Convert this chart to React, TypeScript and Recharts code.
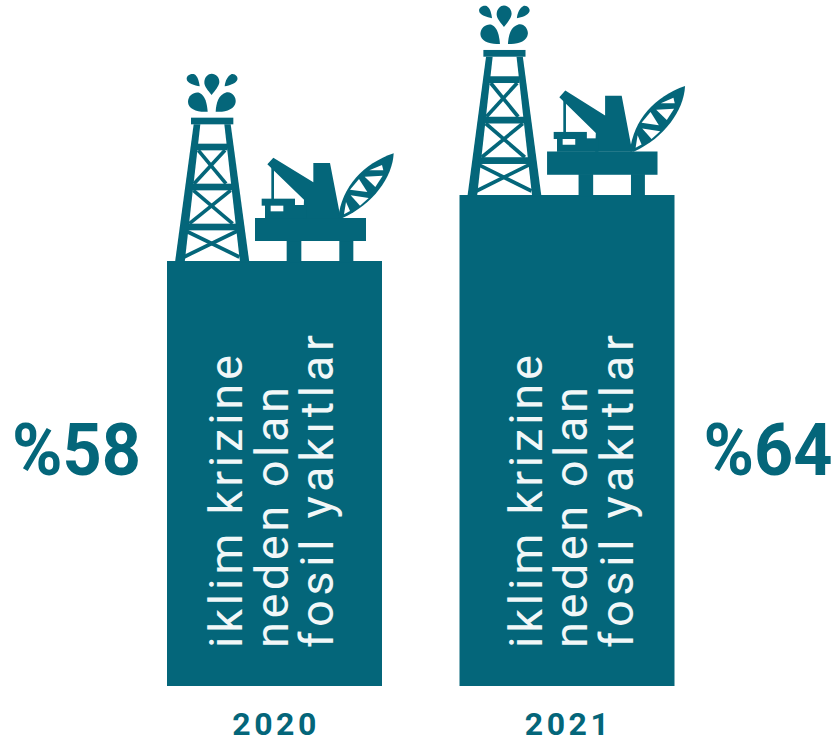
import { BarChart, Bar, XAxis, YAxis, LabelList } from "recharts";

const years = ["2020", "2021"];
const shares = [58, 64];
const captionLines = ["iklim krizine", "neden olan", "fosil yakıtlar"];

const chartData = years.map((year, i) => ({ year, share: shares[i] }));

const TEAL = "#04667a";
const CAPTION_FONT = "Roboto, sans-serif";

// Rig artwork, drawn in its own 3x grid; the bar's top edge sits at y=602.
function RigIcon() {
  return (
    <g fill={TEAL}>
      {/* flame drops */}
      <path d="M143,154 C115,157 84,147 84,125 C84,104 105,93 119,98 C136,106 141,130 143,154 Z" />
      <path d="M167,154 C169,130 174,103 200,96 C216,93 229,110 227,125 C225,147 195,157 167,154 Z" />
      <path d="M155,104 C145,91 132,78 133,65 C134,49 145,40 155,40 C168,40 179,52 178,66 C177,78 165,91 155,104 Z" />
      <path d="M119,78 C105,75 80,69 80,55 C80,44 95,39 103,42 C113,48 117,62 119,78 Z" />
      <path d="M194,78 C196,62 202,47 215,41 C226,39 235,50 232,58 C228,69 210,75 194,78 Z" />
      {/* derrick */}
      <rect x={93} y={172} width={127} height={20} />
      <path d="M101,192 L121,192 L74,606 L45,606 Z" />
      <path d="M193,192 L212,192 L268,606 L240,606 Z" />
      <rect x={110} y={250} width={92} height={20} />
      <rect x={92} y={370} width={130} height={20} />
      <rect x={78} y={490} width={156} height={20} />
      <g stroke={TEAL} strokeWidth={11}>
        <line x1={115} y1={270} x2={198} y2={370} />
        <line x1={195} y1={270} x2={102} y2={370} />
        <line x1={100} y1={390} x2={218} y2={490} />
        <line x1={212} y1={390} x2={88} y2={490} />
        <line x1={78} y1={512} x2={238} y2={590} />
        <line x1={232} y1={512} x2={72} y2={590} />
      </g>
      {/* platform legs and deck */}
      <rect x={380} y={540} width={44} height={66} />
      <rect x={538} y={540} width={42} height={66} />
      <rect x={285} y={473} width={333} height={69} />
      {/* crane and tower */}
      <path d="M340,292 L460,366 L460,308 L510,308 L542,474 L430,474 L432,418 L322,312 Z" />
      <line x1={338} y1={320} x2={338} y2={418} stroke={TEAL} strokeWidth={8} />
      {/* accommodation block */}
      <rect x={305} y={415} width={100} height={21} />
      <rect x={315} y={434} width={125} height={40} />
      <rect x={332} y={436} width={38} height={17} fill="#fff" />
      {/* flare boom */}
      <path d="M535,472 C545,380 610,310 701,279 C698,350 640,432 546,474 Z" />
      <g fill="#fff">
        <polygon points="628,330 666,314 670,330" />
        <polygon points="614,349 668,346 646,380" />
        <polygon points="570,388 597,356 622,395" />
        <polygon points="572,405 626,413 600,436" />
        <polygon points="558,425 570,452 552,462" />
      </g>
    </g>
  );
}

// Bar rectangle with the rig standing on it and the rotated caption inside.
function RigBar(props: any) {
  const { x, y, width, height, index } = props;
  const iconScaleX = index === 0 ? 1 / 3 : 0.995 / 3;
  const iconScaleY = index === 0 ? 1 / 3 : 1.012 / 3;
  const bottom = y + height;
  const captionShift = index === 0 ? 75 : 82;
  return (
    <g>
      <rect x={x} y={y} width={width} height={height} fill={TEAL} />
      <g transform={`translate(${x},${y}) scale(${iconScaleX},${iconScaleY}) translate(-21,-602)`}>
        <RigIcon />
      </g>
      {captionLines.map((line, i) => (
        <text
          key={line}
          transform={`translate(${x + captionShift + i * 45.5},${bottom - 38}) rotate(-90)`}
          fill="#f1f7f8"
          fontFamily={CAPTION_FONT}
          fontWeight={400}
          fontSize={47}
          textLength={[293, 261, 313][i]}
        >
          {line}
        </text>
      ))}
    </g>
  );
}

function PercentLabel(props: any) {
  const { x, y, width, height, value, index } = props;
  const left = index === 0 ? x - 155 : x + width + 29;
  return (
    <text
      transform={`translate(${left},${y + height - 211}) scale(0.95,1)`}
      fill={TEAL}
      fontFamily="Roboto, sans-serif"
      fontWeight={700}
      fontSize={72}
    >
      {`%${value}`}
    </text>
  );
}

function YearTick(props: any) {
  const { x, y, payload } = props;
  return (
    <text
      x={x}
      y={y + 41}
      textAnchor="middle"
      fill={TEAL}
      fontFamily="Roboto, sans-serif"
      fontWeight={700}
      fontSize={32}
      textLength={84}
    >
      {payload.value}
    </text>
  );
}

export default function App() {
  return (
    <div style={{ position: "absolute", left: 0, top: 0, background: "#fff" }}>
      <BarChart
        width={834}
        height={744}
        data={chartData}
        margin={{ top: 0, right: 121, bottom: 0, left: 128 }}
        barSize={215}
      >
        <XAxis dataKey="year" height={58} axisLine={false} tickLine={false} tick={<YearTick />} interval={0} />
        <YAxis hide domain={[19.36, 81.73]} />
        <Bar dataKey="share" shape={<RigBar />} isAnimationActive={false}>
          <LabelList dataKey="share" content={<PercentLabel />} />
        </Bar>
      </BarChart>
    </div>
  );
}
